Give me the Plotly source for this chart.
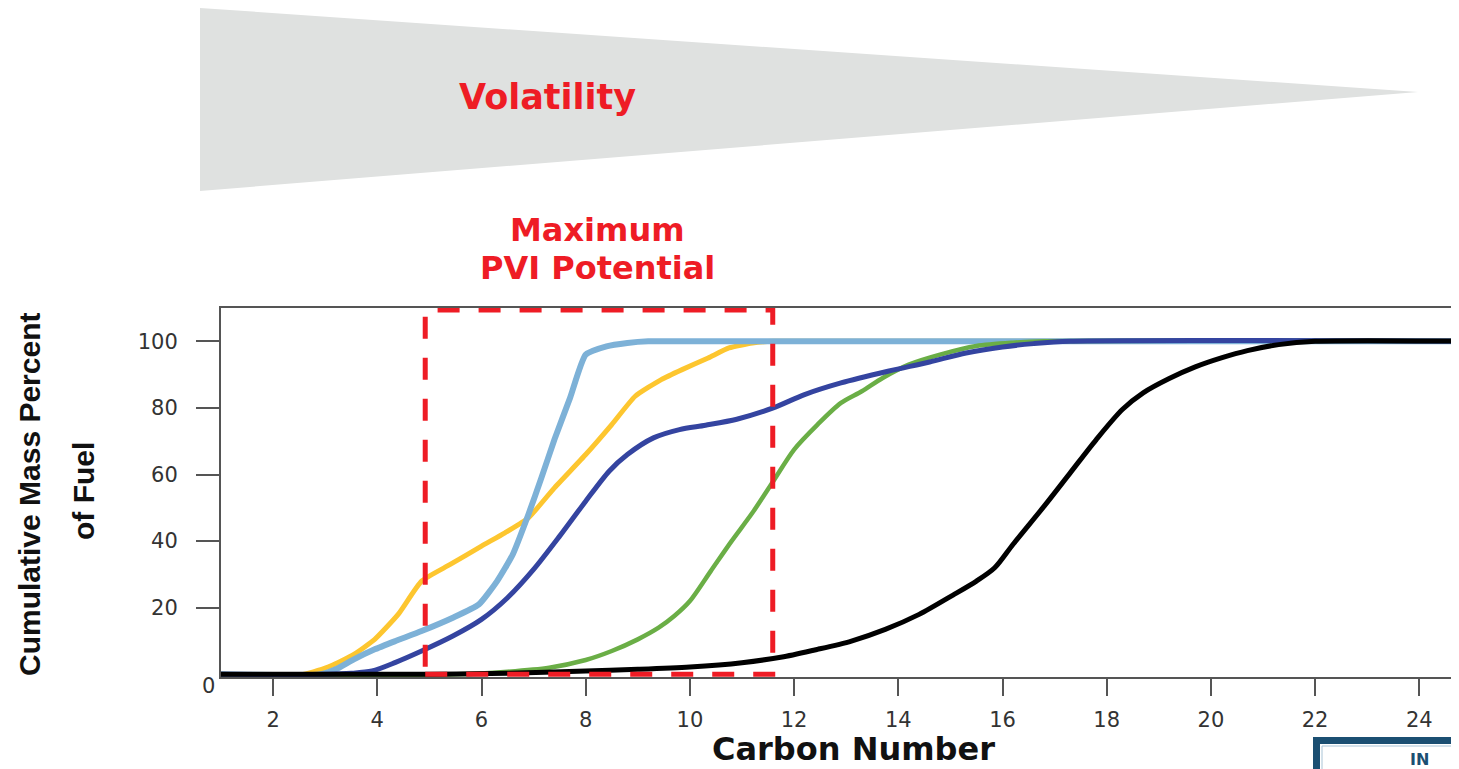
import plotly.graph_objects as go

# ---------------- data ----------------
yellow_x = [1, 2.6, 3.1, 3.55, 3.95, 4.4, 4.85, 5.4, 6.0, 6.45, 6.9, 7.4, 8.0, 8.5, 8.95, 9.45, 9.85, 10.35, 10.75, 11.2, 11.6, 25]
yellow_y = [0, 0, 2.5, 6, 10.5, 18, 28, 33, 38.5, 42.5, 47, 56, 66, 75, 83.5, 88.5, 91.5, 95, 98, 99.5, 100, 100]

lightblue_x = [1, 2.9, 3.2, 3.55, 3.95, 4.35, 4.85, 5.45, 5.95, 6.3, 6.6, 6.9, 7.15, 7.4, 7.7, 8.0, 8.4, 8.8, 9.2, 25]
lightblue_y = [0, 0, 1.5, 4.5, 7.5, 10, 13, 17, 21, 28, 36, 48, 59, 70.5, 83, 96, 98.5, 99.5, 100, 100]

green_x = [1, 5.5, 6.5, 7.3, 8.0, 8.5, 9.0, 9.4, 9.7, 10.0, 10.4, 10.8, 11.2, 11.6, 12.0, 12.45, 12.9, 13.3, 13.7, 14.2, 14.8, 15.5, 16.2, 16.8, 25]
green_y = [0, 0, 0.8, 2, 4.3, 7, 10.5, 14, 17.5, 22, 31, 40, 48.5, 58, 67.5, 75, 81.5, 85, 89, 93, 96, 98.6, 99.6, 100, 100]

darkblue_x = [1, 3.0, 3.5, 3.9, 4.35, 4.85, 5.45, 6.0, 6.5, 7.0, 7.5, 8.0, 8.45, 8.8, 9.3, 9.8, 10.3, 10.9, 11.6, 12.2, 12.9, 13.8, 14.6, 15.3, 16.0, 16.6, 17.3, 25]
darkblue_y = [0, 0, 0.3, 1, 3.6, 7, 11.5, 16.5, 23, 31.5, 41.5, 52, 61, 66, 71, 73.5, 74.8, 76.6, 80, 84, 87.5, 91, 93.8, 96.5, 98.3, 99.3, 100, 100]

black_x = [1, 5, 6.5, 8, 9, 10, 11, 11.8, 12.45, 13.1, 13.75, 14.4, 15.05, 15.5, 15.85, 16.2, 16.8, 17.3, 17.8, 18.3, 18.7, 19.2, 19.7, 20.2, 20.7, 21.3, 22.0, 25]
black_y = [0, 0, 0.3, 1, 1.5, 2.2, 3.5, 5.3, 7.5, 10, 13.5, 18, 23.8, 28, 32, 39, 50.5, 60.5, 70.5, 79.5, 84.5, 88.8, 92.3, 95, 97.2, 99, 100, 100]

x_ticks = [2, 4, 6, 8, 10, 12, 14, 16, 18, 20, 22, 24]
y_ticks = [20, 40, 60, 80, 100]

pvi_window = [4.92, 11.59]   # carbon-number span of the dashed box

# ---------------- geometry ----------------
OFF = 8                      # page body margin
W, H = 1459 - OFF, 769 - OFF
L, R, T, B = 221 - OFF, 0, 308 - OFF, 92
PW, PH = W - L - R, H - T - B


def px(xp):
    return (xp - OFF - L) / PW


def py(yp):
    return (H - B - (yp - OFF)) / PH


fig = go.Figure()

series = [
    (yellow_x, yellow_y, "#FDC62F", 5, 0.5),
    (lightblue_x, lightblue_y, "#7DB1D7", 6, 0.5),
    (green_x, green_y, "#6AAE46", 4.5, 0.8),
    (darkblue_x, darkblue_y, "#3444A0", 5, 0.8),
    (black_x, black_y, "#000000", 5, 0.8),
]
for xs, ys, col, lw, sm in series:
    fig.add_trace(go.Scatter(x=xs, y=ys, mode="lines",
                             line=dict(color=col, width=lw, shape="spline", smoothing=sm),
                             showlegend=False, hoverinfo="skip"))

red = "#EE1C25"
shapes = [
    # volatility wedge
    dict(type="path", xref="paper", yref="paper",
         path=f"M {px(200)},{py(8)} L {px(1418)},{py(92)} L {px(200)},{py(191)} Z",
         fillcolor="#DFE1E0", line=dict(width=0), layer="below"),
    # maximum PVI window
    dict(type="rect", xref="x", yref="y", x0=pvi_window[0], x1=pvi_window[1], y0=0, y1=109.4,
         line=dict(color=red, width=5, dash="22px,19px"), fillcolor="rgba(0,0,0,0)"),
    # corner logo frame
    dict(type="rect", xref="paper", yref="paper", x0=px(1316.5), x1=px(1480), y0=py(740.5), y1=py(800),
         line=dict(color="#1B4F72", width=7), fillcolor="white"),
    dict(type="rect", xref="paper", yref="paper", x0=px(1322), x1=px(1480), y0=py(746), y1=py(800),
         line=dict(color="#A9C4D6", width=1), fillcolor="rgba(0,0,0,0)"),
]

annotations = [
    dict(text="<b>Volatility</b>", x=px(547), y=py(97), xref="paper", yref="paper",
         showarrow=False, font=dict(family="DejaVu Sans", size=35, color=red),
         xanchor="center", yanchor="middle"),
    dict(text="<b>Maximum</b>", x=px(597), y=py(230), xref="paper", yref="paper",
         showarrow=False, font=dict(family="DejaVu Sans", size=32, color=red),
         xanchor="center", yanchor="middle"),
    dict(text="<b>PVI Potential</b>", x=px(597), y=py(268), xref="paper", yref="paper",
         showarrow=False, font=dict(family="DejaVu Sans", size=32, color=red),
         xanchor="center", yanchor="middle"),
    dict(text="<b>Carbon Number</b>", x=px(853), y=py(749), xref="paper", yref="paper",
         showarrow=False, font=dict(family="DejaVu Sans", size=32, color="#111111"),
         xanchor="center", yanchor="middle"),
    dict(text="<b>Cumulative Mass Percent</b>", x=px(29), y=py(495), xref="paper", yref="paper",
         showarrow=False, textangle=-90, font=dict(family="Liberation Sans", size=30, color="#111111"),
         xanchor="center", yanchor="middle"),
    dict(text="<b>of Fuel</b>", x=px(83), y=py(491), xref="paper", yref="paper",
         showarrow=False, textangle=-90, font=dict(family="Liberation Sans", size=30, color="#111111"),
         xanchor="center", yanchor="middle"),
    dict(text="0", x=px(208), y=py(686), xref="paper", yref="paper",
         showarrow=False, font=dict(family="DejaVu Sans", size=21, color="#333333"),
         xanchor="center", yanchor="middle"),
    dict(text="<b>IN</b>", x=px(1408), y=py(759), xref="paper", yref="paper",
         showarrow=False, font=dict(family="DejaVu Sans", size=16, color="#1B4F72"),
         xanchor="left", yanchor="middle"),
]

fig.update_layout(
    width=W, height=H,
    margin=dict(l=L, r=R, t=T, b=B, pad=0),
    paper_bgcolor="white", plot_bgcolor="white",
    shapes=shapes, annotations=annotations,
    showlegend=False,
    xaxis=dict(range=[1, 1 + PW / 52.1], tickvals=x_ticks, ticktext=[str(v) for v in x_ticks],
               showgrid=False, zeroline=False, showline=True, mirror=True,
               linecolor="#555555", linewidth=2,
               ticks="outside", ticklen=17, tickwidth=2, tickcolor="#555555",
               tickfont=dict(family="DejaVu Sans", size=21, color="#333333"),
               ticklabelstandoff=6),
    yaxis=dict(range=[-0.8, 110], tickvals=y_ticks, ticktext=[str(v) for v in y_ticks],
               showgrid=False, zeroline=False, showline=True, mirror=False,
               linecolor="#555555", linewidth=2,
               ticks="outside", ticklen=23, tickwidth=2, tickcolor="#555555",
               tickfont=dict(family="DejaVu Sans", size=21, color="#333333"),
               ticklabelstandoff=14),
)

fig.write_html("out.html")
